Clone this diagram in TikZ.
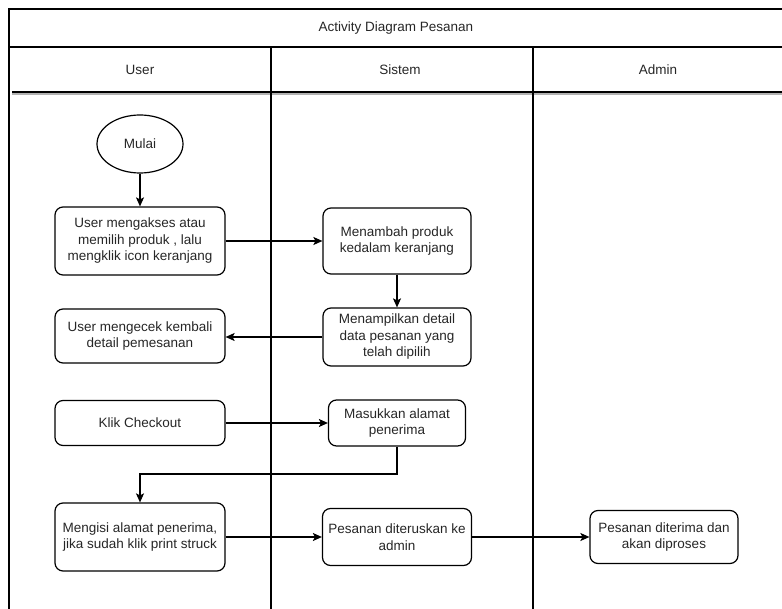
\documentclass[tikz,border=0pt]{standalone}
\usepackage{fontspec}
\setmainfont{Liberation Sans}
\usetikzlibrary{arrows.meta,shapes.geometric}
\begin{document}
\begin{tikzpicture}[x=1pt,y=-1pt,
  lane/.style={line width=1.3pt, black},
  txt/.style={font=\fontsize{13.5}{16.5}\selectfont, text=black!85, align=center},
  box/.style={txt, draw, rounded corners=8pt, line width=1.2pt, inner sep=2pt},
  startnode/.style={txt, draw, ellipse, line width=1.2pt, minimum width=86pt, minimum height=58pt, inner sep=0pt},
  arr/.style={line width=1.2pt, -{Stealth[length=9pt,width=8pt,inset=2pt]}}]
\useasboundingbox (0,0) rectangle (782,609);
% swimlane frame
\draw[lane] (782,9) -- (9,9) -- (9,609);
\draw[lane] (9,47) -- (782,47);
\draw[black!30, line width=1.2pt] (12,94) -- (782,94);
\draw[lane] (12,92) -- (782,92);
\draw[lane] (271,47) -- (271,609);
\draw[lane] (533,47) -- (533,609);
\node[txt] (title) at (396,28) {Activity Diagram Pesanan};
\node[txt] (huser) at (140,70) {User};
\node[txt] (hsistem) at (400,70) {Sistem};
\node[txt] (hadmin) at (658,70) {Admin};
% nodes
\node[startnode] (mulai) at (140,144) {Mulai};
\node[box, minimum width=170pt, minimum height=68pt] (b1) at (140,241) {User mengakses atau\\memilih produk , lalu\\mengklik icon keranjang};
\node[box, minimum width=148pt, minimum height=66pt] (b2) at (397,241) {Menambah produk\\kedalam keranjang};
\node[box, minimum width=148pt, minimum height=58pt] (b3) at (397,337) {Menampilkan detail\\data pesanan yang\\telah dipilih};
\node[box, minimum width=170pt, minimum height=54pt] (b4) at (140,336) {User mengecek kembali\\detail pemesanan};
\node[box, minimum width=170pt, minimum height=45pt] (b5) at (140,423) {Klik Checkout};
\node[box, minimum width=137pt, minimum height=46pt] (b6) at (397,423) {Masukkan alamat\\penerima};
\node[box, minimum width=170pt, minimum height=68pt] (b7) at (140,537) {Mengisi alamat penerima,\\jika sudah klik print struck};
\node[box, minimum width=149pt, minimum height=57pt] (b8) at (397,537) {Pesanan diteruskan ke\\admin};
\node[box, minimum width=148pt, minimum height=53pt] (b9) at (664,537) {Pesanan diterima dan\\akan diproses};
\coordinate (bend) at (140,474);
% connectors
\draw[arr] (mulai) -- (b1);
\draw[arr] (b1.east |- b2.west) -- (b2.west);
\draw[arr] (b2) -- (b3);
\draw[arr] (b3.west) -- (b4.east |- b3.west);
\draw[arr] (b5.east) -- (b6.west);
\draw[arr] (b6.south) |- (bend) -- (b7.north);
\draw[arr] (b7.east) -- (b8.west);
\draw[arr] (b8.east) -- (b9.west);
\end{tikzpicture}
\end{document}
